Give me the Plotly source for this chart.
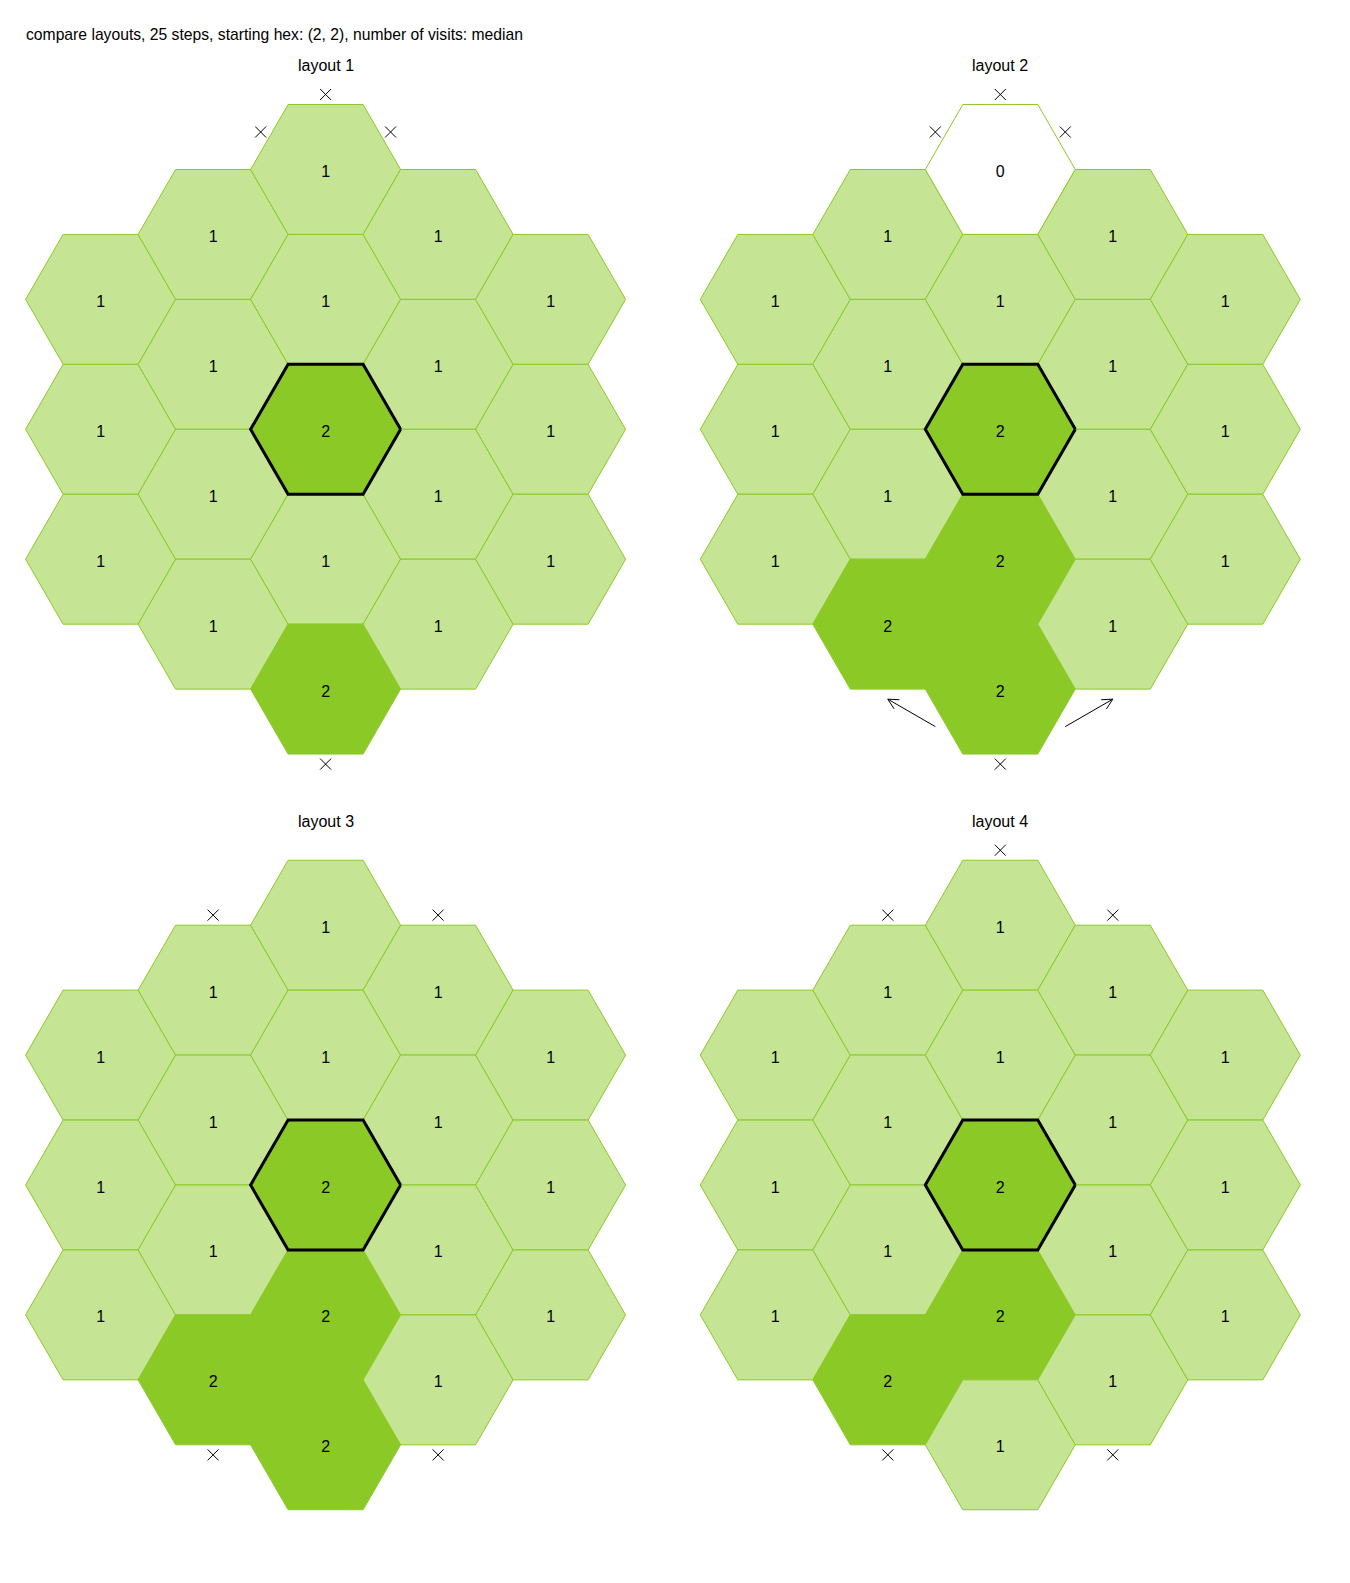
import math
import plotly.graph_objects as go

# ---------------- data ----------------
title_text = "compare layouts, 25 steps, starting hex: (2, 2), number of visits: median"
layout_names = ["layout 1", "layout 2", "layout 3", "layout 4"]
start_hex = (2, 2)  # (column, row)

# visits per column (columns 0..4), listed top to bottom
layout1_visits = [[1, 1, 1], [1, 1, 1, 1], [1, 1, 2, 1, 2], [1, 1, 1, 1], [1, 1, 1]]
layout2_visits = [[1, 1, 1], [1, 1, 1, 2], [0, 1, 2, 2, 2], [1, 1, 1, 1], [1, 1, 1]]
layout3_visits = [[1, 1, 1], [1, 1, 1, 2], [1, 1, 2, 2, 2], [1, 1, 1, 1], [1, 1, 1]]
layout4_visits = [[1, 1, 1], [1, 1, 1, 2], [1, 1, 2, 2, 1], [1, 1, 1, 1], [1, 1, 1]]

# blocked exits: (column, row, edge)
layout1_blocked = [(2, 0, "top"), (2, 0, "upper-left"), (2, 0, "upper-right"), (2, 4, "bottom")]
layout2_blocked = [(2, 0, "top"), (2, 0, "upper-left"), (2, 0, "upper-right"), (2, 4, "bottom")]
layout3_blocked = [(1, 0, "top"), (3, 0, "top"), (1, 3, "bottom"), (3, 3, "bottom")]
layout4_blocked = [(2, 0, "top"), (1, 0, "top"), (3, 0, "top"), (1, 3, "bottom"), (3, 3, "bottom")]

# wrap-around moves: (from column, row, edge) -> (to column, row, edge)
layout1_moves = []
layout2_moves = [((2, 4, "lower-left"), (1, 3, "bottom")), ((2, 4, "lower-right"), (3, 3, "bottom"))]
layout3_moves = []
layout4_moves = []

all_visits = [layout1_visits, layout2_visits, layout3_visits, layout4_visits]
all_blocked = [layout1_blocked, layout2_blocked, layout3_blocked, layout4_blocked]
all_moves = [layout1_moves, layout2_moves, layout3_moves, layout4_moves]

# ---------------- styling ----------------
W, H = 1350, 1583
PX = 75.0  # pixels per hex radius
DARK = "#8bc926"
LIGHT = "#c5e494"
FILL = {0: "#ffffff", 1: LIGHT, 2: DARK}
FONT = "Liberation Sans, Arial, sans-serif"
centers_px = [(325.6, 429.3), (1000.3, 429.3), (325.6, 1185.0), (1000.3, 1185.0)]
XR, YR = 4.2, 4.8
TEXT_DROP = 3.5 / PX  # text baseline correction
EDGE_ANGLE = {"top": 90, "upper-right": 30, "upper-left": 150,
              "bottom": 270, "lower-left": 210, "lower-right": 330}
S3 = math.sqrt(3)


def hex_center(col, row):
    q = col - 2
    n = 5 - abs(q)
    return 1.5 * q, ((n - 1) / 2 - row) * S3


def hex_outline(cx, cy):
    xs, ys = [], []
    for k in range(7):
        a = math.radians(60 * (k % 6))
        xs.append(cx + math.cos(a))
        ys.append(cy + math.sin(a))
    return xs, ys


def exit_point(col, row, edge, dist=1.0):
    cx, cy = hex_center(col, row)
    a = math.radians(EDGE_ANGLE[edge])
    return cx + dist * math.cos(a), cy + dist * math.sin(a)


fig = go.Figure()
annotations = []

for i in range(4):
    ax = "" if i == 0 else str(i + 1)
    xref, yref = "x" + ax, "y" + ax
    cxp, cyp = centers_px[i]
    xd = [(cxp - XR * PX) / W, (cxp + XR * PX) / W]
    yc = H - cyp
    yd = [(yc - YR * PX) / H, (yc + YR * PX) / H]
    fig.layout["xaxis" + ax] = dict(domain=xd, range=[-XR, XR], visible=False, fixedrange=True)
    fig.layout["yaxis" + ax] = dict(domain=yd, range=[-YR, YR], visible=False, fixedrange=True)

    visits = all_visits[i]
    tx, ty, tt = [], [], []
    for col, column in enumerate(visits):
        for row, v in enumerate(column):
            cx, cy = hex_center(col, row)
            xs, ys = hex_outline(cx, cy)
            fig.add_trace(go.Scatter(x=xs, y=ys, mode="lines", fill="toself",
                                     fillcolor=FILL[v], line=dict(color=DARK, width=1),
                                     xaxis=xref, yaxis=yref, hoverinfo="skip", showlegend=False))
            tx.append(cx)
            ty.append(cy - TEXT_DROP)
            tt.append(str(v))

    # starting hex outline
    sx, sy = hex_outline(*hex_center(*start_hex))
    fig.add_trace(go.Scatter(x=sx, y=sy, mode="lines", line=dict(color="black", width=3),
                             xaxis=xref, yaxis=yref, hoverinfo="skip", showlegend=False))

    fig.add_trace(go.Scatter(x=tx, y=ty, mode="text", text=tt,
                             textfont=dict(family=FONT, size=16, color="black"),
                             textposition="middle center",
                             xaxis=xref, yaxis=yref, hoverinfo="skip", showlegend=False))

    # blocked exits
    bx, by = [], []
    for col, row, edge in all_blocked[i]:
        px, py = exit_point(col, row, edge)
        bx.append(px)
        by.append(py)
    fig.add_trace(go.Scatter(x=bx, y=by, mode="markers",
                             marker=dict(symbol="x-thin", size=11, color="black",
                                         line=dict(color="black", width=1)),
                             xaxis=xref, yaxis=yref, hoverinfo="skip", showlegend=False))

    # wrap-around arrows
    for (a, b) in all_moves[i]:
        x0, y0 = exit_point(*a)
        x1, y1 = exit_point(*b)
        ang = math.atan2(y0 - y1, x0 - x1)
        hl = 0.155
        hw = math.radians(27)
        hx = [x1 + hl * math.cos(ang + hw), x1, x1 + hl * math.cos(ang - hw)]
        hy = [y1 + hl * math.sin(ang + hw), y1, y1 + hl * math.sin(ang - hw)]
        fig.add_trace(go.Scatter(x=[x0, x1, None] + hx, y=[y0, y1, None] + hy, mode="lines",
                                 line=dict(color="black", width=1),
                                 xaxis=xref, yaxis=yref, hoverinfo="skip", showlegend=False))

    annotations.append(dict(text=layout_names[i], x=cxp / W, y=(H - (cyp - 363.3)) / H,
                            xref="paper", yref="paper", xanchor="center", yanchor="middle",
                            showarrow=False, font=dict(family=FONT, size=16, color="black")))

annotations.append(dict(text=title_text, x=24 / W, y=(H - 34.5) / H, xref="paper", yref="paper",
                        xanchor="left", yanchor="middle", showarrow=False,
                        font=dict(family=FONT, size=15.7, color="black")))

fig.update_layout(width=W, height=H, margin=dict(l=0, r=0, t=0, b=0),
                  paper_bgcolor="white", plot_bgcolor="white", annotations=annotations,
                  showlegend=False)

fig.write_html("out.html")
